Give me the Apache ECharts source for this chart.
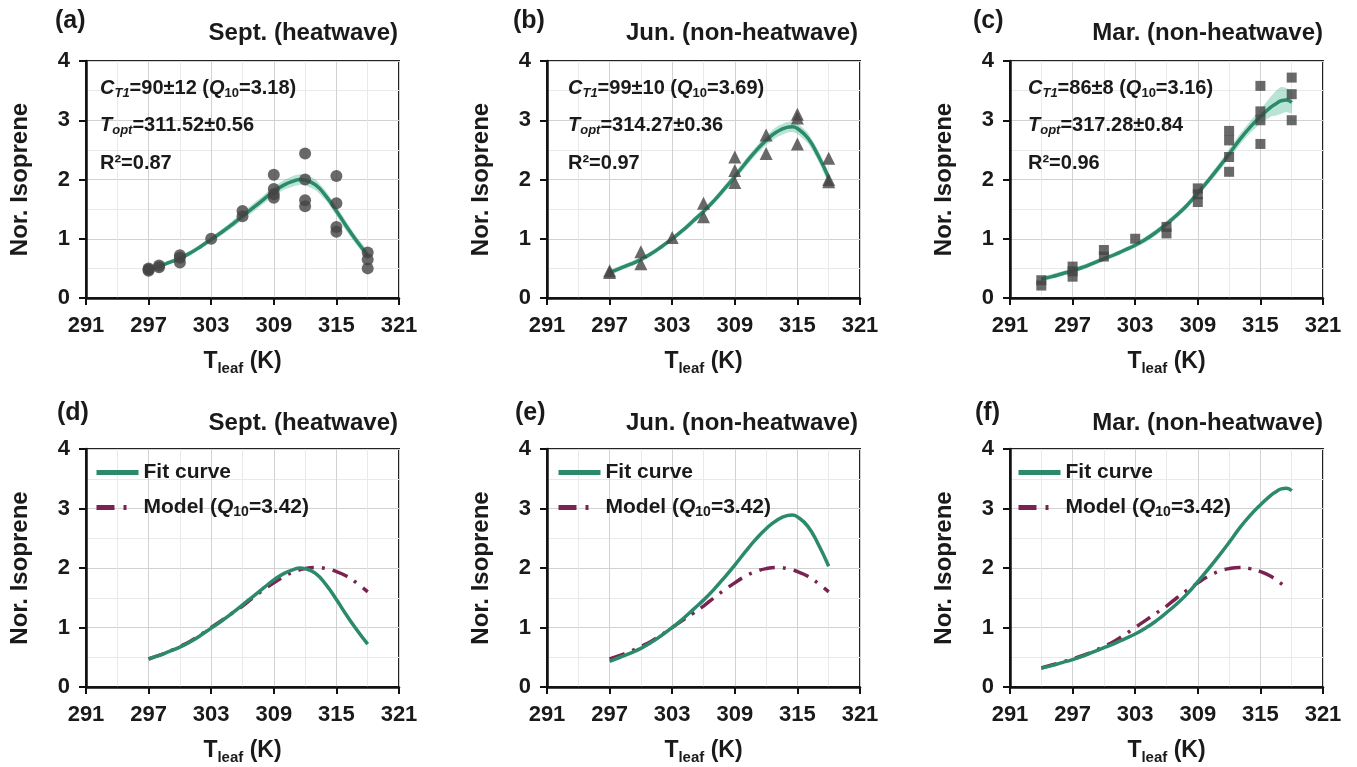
<!DOCTYPE html>
<html><head><meta charset="utf-8">
<script src="https://cdn.jsdelivr.net/npm/echarts@6/dist/echarts.min.js"></script>
<style>html,body{margin:0;padding:0;background:#fff}#c{width:1357px;height:767px}</style>
</head><body><div id="c"></div>
<script>
// ---------- data ----------
const xTickMin = 291, xTickMax = 321, xTickStep = 6;
const yTickMin = 0, yTickMax = 4, yTickStep = 1;

const panelLabels = ['(a)', '(b)', '(c)', '(d)', '(e)', '(f)'];
const panelTitles = ['Sept. (heatwave)', 'Jun. (non-heatwave)', 'Mar. (non-heatwave)',
                     'Sept. (heatwave)', 'Jun. (non-heatwave)', 'Mar. (non-heatwave)'];

// (a) Sept. observations (circles)
const sepObsT = [297,297,297,298,298,300,300,300,303,306,306,309,309,309,309,312,312,312,312,315,315,315,315,318,318,318];
const sepObsV = [0.46,0.48,0.50,0.52,0.55,0.60,0.68,0.72,1.00,1.38,1.47,1.69,1.75,1.84,2.08,1.55,1.65,2.00,2.44,1.12,1.20,1.60,2.06,0.50,0.65,0.77];
// (a) fit curve and confidence band
const sepFitT = [297,298,299,300,301,302,303,304,305,306,307,308,309,310,311,311.5,312,313,314,315,316,317,318];
const sepFitV = [0.47,0.53,0.60,0.67,0.76,0.87,0.99,1.11,1.24,1.38,1.52,1.66,1.80,1.91,1.98,2.00,1.99,1.91,1.72,1.47,1.20,0.95,0.72];
const sepLow  = [0.44,0.50,0.57,0.63,0.72,0.83,0.95,1.06,1.18,1.32,1.45,1.59,1.72,1.83,1.89,1.91,1.90,1.82,1.64,1.39,1.12,0.88,0.65];
const sepUp   = [0.50,0.56,0.64,0.71,0.80,0.91,1.03,1.16,1.30,1.44,1.59,1.73,1.88,1.99,2.07,2.09,2.08,2.00,1.80,1.55,1.28,1.02,0.79];

// (b) Jun. observations (triangles)
const junObsT = [297,297,300,300,303,306,306,309,309,309,312,312,315,315,315,318,318,318];
const junObsV = [0.43,0.46,0.58,0.78,1.02,1.37,1.60,1.95,2.15,2.38,2.44,2.75,2.60,3.04,3.10,1.96,2.00,2.36];
const junFitT = [297,298,299,300,301,302,303,304,305,306,307,308,309,310,311,312,313,314,314.5,315,316,317,318];
const junFitV = [0.43,0.50,0.57,0.65,0.75,0.87,1.00,1.14,1.30,1.46,1.64,1.84,2.05,2.27,2.48,2.66,2.80,2.88,2.89,2.86,2.70,2.40,2.03];
const junLow  = [0.39,0.46,0.53,0.61,0.71,0.83,0.96,1.10,1.25,1.41,1.59,1.78,1.99,2.20,2.41,2.58,2.71,2.79,2.80,2.77,2.61,2.31,1.94];
const junUp   = [0.47,0.54,0.61,0.69,0.79,0.91,1.04,1.18,1.35,1.51,1.69,1.90,2.11,2.34,2.55,2.74,2.89,2.97,2.98,2.95,2.79,2.49,2.12];

// (c) Mar. observations (squares)
const marObsT = [294,294,297,297,297,300,300,303,306,306,309,309,309,312,312,312,312,315,315,315,315,318,318,318];
const marObsV = [0.21,0.30,0.36,0.45,0.53,0.70,0.81,1.00,1.09,1.20,1.62,1.75,1.85,2.13,2.38,2.66,2.82,2.60,3.00,3.15,3.58,3.00,3.44,3.72];
const marFitT = [294,295,296,297,298,299,300,301,302,303,304,305,306,307,308,309,310,311,312,313,314,315,316,316.5,317,317.5,318];
const marFitV = [0.32,0.36,0.41,0.46,0.52,0.59,0.66,0.73,0.81,0.89,0.99,1.11,1.25,1.40,1.57,1.77,1.98,2.20,2.43,2.67,2.88,3.06,3.22,3.28,3.33,3.34,3.30];
const marLow  = [0.28,0.32,0.37,0.42,0.48,0.55,0.62,0.69,0.77,0.85,0.94,1.06,1.20,1.35,1.52,1.72,1.92,2.13,2.35,2.58,2.78,2.94,3.06,3.08,3.11,3.14,3.12];
const marUp   = [0.36,0.40,0.45,0.50,0.56,0.63,0.70,0.77,0.85,0.93,1.04,1.16,1.30,1.45,1.62,1.82,2.04,2.27,2.51,2.76,2.98,3.18,3.40,3.50,3.56,3.54,3.48];

// (d)(e) model curve (Q10 = 3.42)
const modelT = [297,298,299,300,301,302,303,304,305,306,307,308,309,310,311,312,313,314,315,316,317,318];
const modelV = [0.47,0.53,0.60,0.68,0.77,0.88,1.00,1.12,1.24,1.36,1.50,1.63,1.75,1.86,1.94,1.99,2.01,1.99,1.94,1.86,1.74,1.60];
// (f) model curve
const marModelT = [294,295,296,297,298,299,300,301,302,303,304,305,306,307,308,309,310,311,312,313,314,315,316,317.2];
const marModelV = [0.32,0.37,0.42,0.47,0.53,0.60,0.68,0.77,0.88,1.00,1.12,1.24,1.36,1.50,1.63,1.75,1.86,1.94,1.99,2.01,1.99,1.94,1.86,1.71];

const annotCT1 = ['90±12', '99±10', '86±8'];
const annotQ10 = ['3.18', '3.69', '3.16'];
const annotTopt = ['311.52±0.56', '314.27±0.36', '317.28±0.84'];
const annotR2 = ['0.87', '0.97', '0.96'];
const legendNames = ['Fit curve', 'Model'];

// ---------- styling ----------
const FONT = 'Liberation Sans, Arial, sans-serif';
const INK = '#1a1a1a';
const GREEN = '#2b8a6c';
const BAND = 'rgba(80,185,145,0.40)';
const MAROON = '#7b2350';
const DOT = '#444444';
const MODEL_DASH = [16, 8, 3, 8];

const gridPos = [
  {left: 86, top: 61, width: 313, height: 237},
  {left: 547, top: 61, width: 313, height: 237},
  {left: 1010, top: 61, width: 313, height: 237},
  {left: 86, top: 449, width: 313, height: 238},
  {left: 547, top: 449, width: 313, height: 238},
  {left: 1010, top: 449, width: 313, height: 238}
];

const pair = (T, V) => T.map((t, i) => [t, V[i]]);

const subRich = {
  t: {fontSize: 23, fontWeight: 'bold', fontFamily: FONT, color: INK, lineHeight: 28},
  s: {fontSize: 15, fontWeight: 'bold', fontFamily: FONT, color: INK, lineHeight: 13, verticalAlign: 'bottom'}
};

const grids = gridPos.map(g => Object.assign({show: true, borderColor: '#222', borderWidth: 2, backgroundColor: 'transparent'}, g));

const xAxes = gridPos.map((g, i) => ({
  type: 'value', gridIndex: i, min: xTickMin, max: xTickMax, interval: xTickStep,
  axisLine: {show: true, onZero: false, lineStyle: {color: '#111', width: 2.5}},
  axisTick: {show: true, length: 7, lineStyle: {color: '#111', width: 2}},
  axisLabel: {margin: 17, fontSize: 22, fontWeight: 'bold', color: INK, fontFamily: FONT},
  splitLine: {show: true, lineStyle: {color: '#d2d2d2', width: 1}},
  minorTick: {show: false, splitNumber: 2},
  minorSplitLine: {show: true, lineStyle: {color: '#e9e9e9', width: 1}},
  name: '{t|T}{s|leaf}{t| (K)}', nameLocation: 'middle', nameGap: 50,
  nameTextStyle: {rich: subRich}
}));

const yAxes = gridPos.map((g, i) => ({
  type: 'value', gridIndex: i, min: yTickMin, max: yTickMax, interval: yTickStep,
  axisLine: {show: true, onZero: false, lineStyle: {color: '#111', width: 2.5}},
  axisTick: {show: true, length: 7, lineStyle: {color: '#111', width: 2}},
  axisLabel: {margin: 16, fontSize: 22, fontWeight: 'bold', color: INK, fontFamily: FONT},
  splitLine: {show: true, lineStyle: {color: '#d2d2d2', width: 1}},
  minorTick: {show: false, splitNumber: 2},
  minorSplitLine: {show: true, lineStyle: {color: '#e9e9e9', width: 1}},
  name: 'Nor. Isoprene', nameLocation: 'middle', nameGap: 54,
  nameTextStyle: {fontSize: 24, fontWeight: 'bold', color: INK, fontFamily: FONT}
}));

const series = [];
function addBand(i, T, low, up) {
  series.push({
    type: 'custom', xAxisIndex: i, yAxisIndex: i, silent: true, z: 1, clip: true,
    data: T.map((t, k) => [t, low[k], up[k]]),
    encode: {x: 0, y: [1, 2]},
    renderItem: (params, api) => {
      if (params.dataIndex !== 0) return null;
      const upper = T.map((t, k) => api.coord([t, up[k]]));
      const lower = T.map((t, k) => api.coord([t, low[k]])).reverse();
      return {type: 'polygon', shape: {points: upper.concat(lower), smooth: 0.2},
              style: {fill: BAND, stroke: null}};
    }
  });
}
function addFit(i, T, V, name) {
  const s = {type: 'line', xAxisIndex: i, yAxisIndex: i, smooth: true, symbol: 'none',
    lineStyle: {color: GREEN, width: 3.5}, itemStyle: {color: GREEN}, data: pair(T, V), z: 3};
  if (name) s.name = name;
  series.push(s);
}
function addModel(i, T, V) {
  series.push({type: 'line', name: 'Model', xAxisIndex: i, yAxisIndex: i, smooth: true, symbol: 'none',
    lineStyle: {color: MAROON, width: 3.5, type: MODEL_DASH}, itemStyle: {color: MAROON}, data: pair(T, V), z: 2});
}
function addObs(i, T, V, sym, size) {
  series.push({type: 'scatter', xAxisIndex: i, yAxisIndex: i, symbol: sym, symbolSize: size,
    itemStyle: {color: DOT}, data: pair(T, V), z: 4});
}

addBand(0, sepFitT, sepLow, sepUp); addFit(0, sepFitT, sepFitV); addObs(0, sepObsT, sepObsV, 'circle', 12);
addBand(1, junFitT, junLow, junUp); addFit(1, junFitT, junFitV); addObs(1, junObsT, junObsV, 'triangle', 13);
addBand(2, marFitT, marLow, marUp); addFit(2, marFitT, marFitV); addObs(2, marObsT, marObsV, 'rect', 10);
addFit(3, sepFitT, sepFitV, 'Fit curve'); addModel(3, modelT, modelV);
addFit(4, junFitT, junFitV, 'Fit curve'); addModel(4, modelT, modelV);
addFit(5, marFitT, marFitV, 'Fit curve'); addModel(5, marModelT, marModelV);

// ---------- text ----------
const W = 1357;
const titles = [];
const labelPos = [[55, 9], [513, 9], [973, 9], [57, 401], [515, 401], [975, 401]];
const headRight = [398, 858, 1323, 398, 858, 1323];
const headTop = [21, 21, 21, 411, 411, 411];
panelLabels.forEach((t, i) => titles.push({text: t, left: labelPos[i][0], top: labelPos[i][1], padding: 0,
  textStyle: {fontSize: 25, fontWeight: 'bold', color: INK, fontFamily: FONT}}));
panelTitles.forEach((t, i) => titles.push({text: t, right: W - headRight[i], top: headTop[i], padding: 0,
  textStyle: {fontSize: 24, fontWeight: 'bold', color: INK, fontFamily: FONT}}));

const annRich = {
  n: {fontSize: 20, fontWeight: 'bold', fontFamily: FONT, color: INK, lineHeight: 24},
  i: {fontSize: 20, fontWeight: 'bold', fontStyle: 'italic', fontFamily: FONT, color: INK, lineHeight: 24},
  si: {fontSize: 13, fontWeight: 'bold', fontStyle: 'italic', fontFamily: FONT, color: INK, lineHeight: 12, verticalAlign: 'bottom'},
  s: {fontSize: 13, fontWeight: 'bold', fontFamily: FONT, color: INK, lineHeight: 12, verticalAlign: 'bottom'}
};
const annLeft = [100, 568, 1028];
[0, 1, 2].forEach(k => {
  titles.push({left: annLeft[k], top: 76, padding: 0, textStyle: {rich: annRich},
    text: '{i|C}{si|T1}{n|=' + annotCT1[k] + ' (}{i|Q}{s|10}{n|=' + annotQ10[k] + ')}'});
  titles.push({left: annLeft[k], top: 113, padding: 0, textStyle: {rich: annRich},
    text: '{i|T}{si|opt}{n|=' + annotTopt[k] + '}'});
  titles.push({left: annLeft[k], top: 151, padding: 0, textStyle: {rich: annRich},
    text: '{n|R²=' + annotR2[k] + '}'});
});

const legRich = {
  n: {fontSize: 21, fontWeight: 'bold', fontFamily: FONT, color: INK, lineHeight: 24},
  i: {fontSize: 21, fontWeight: 'bold', fontStyle: 'italic', fontFamily: FONT, color: INK, lineHeight: 24},
  s: {fontSize: 14, fontWeight: 'bold', fontFamily: FONT, color: INK, lineHeight: 12, verticalAlign: 'bottom'}
};
const legLeft = [94, 556, 1016];
const legends = legLeft.map(l => ({
  left: l, top: 462, orient: 'vertical', itemWidth: 42, itemHeight: 14, itemGap: 14, padding: 0,
  selectedMode: false,
  data: [
    {name: legendNames[0], lineStyle: {width: 5}},
    {name: legendNames[1], lineStyle: {width: 5, type: [18, 9, 3, 14]}}
  ],
  itemStyle: {opacity: 0},
  formatter: n => n === 'Model' ? '{n|Model (}{i|Q}{s|10}{n|=3.42)}' : '{n|' + n + '}',
  textStyle: {rich: legRich}
}));

const chart = echarts.init(document.getElementById('c'), null, {renderer: 'canvas'});
chart.setOption({
  animation: false,
  backgroundColor: '#fff',
  title: titles,
  legend: legends,
  grid: grids,
  xAxis: xAxes,
  yAxis: yAxes,
  series: series
});
</script>
</body></html>
